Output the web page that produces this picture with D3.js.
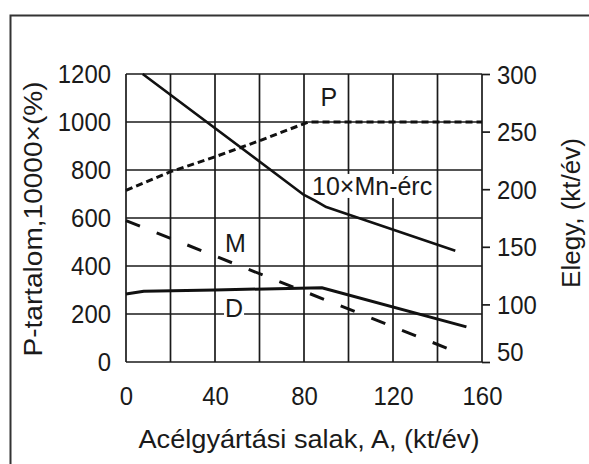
<!DOCTYPE html>
<html>
<head>
<meta charset="utf-8">
<script src="https://cdn.jsdelivr.net/npm/d3@7"></script>
<style>
  body { margin: 0; background: #fff; }
  svg { display: block; }
  text { font-family: "Liberation Sans", Arial, sans-serif; fill: #1a1a1a; }
</style>
</head>
<body>
<svg id="slagPlot"></svg>
<script>
const aTicks = [0, 40, 80, 120, 160];
const aGrid = [0, 20, 40, 60, 80, 100, 120, 140, 160];
const pTicks = [0, 200, 400, 600, 800, 1000, 1200];
const elegyTicks = [50, 100, 150, 200, 250, 300];

// P-tartalom, left axis
const pA = [0, 20, 40, 60, 82, 160];
const pVal = [715, 793, 855, 922, 1000, 1000];
// 10*Mn-érc, right axis
const mnA = [7.5, 80, 85, 90, 148];
const mnVal = [300, 195, 190, 184.5, 146.6];
// M, right axis
const mA = [0, 150];
const mVal = [172.7, 57.6];
// D, right axis
const dA = [0, 8, 40, 88, 153];
const dVal = [109, 111.5, 112.5, 114.5, 80.5];

const size = { width: 589, height: 464 };
const margin = { top: 74, bottom: 102, left: 126, right: 107 };

const svg = d3.select("#slagPlot")
  .attr("width", size.width)
  .attr("height", size.height);

// outer frame (cut off at right and bottom like the scan)
svg.append("rect")
  .attr("x", 10.5).attr("y", 15.5)
  .attr("width", 700).attr("height", 600)
  .attr("fill", "none")
  .attr("stroke", "#333")
  .attr("stroke-width", 2);

const x = d3.scaleLinear()
  .domain([0, 160])
  .range([margin.left, size.width - margin.right]);

const yL = d3.scaleLinear()
  .domain([0, 1200])
  .range([size.height - margin.bottom, margin.top]);

const yR = d3.scaleLinear()
  .domain([50, 300])
  .range([size.height - margin.bottom, margin.top]);

const grid = svg.append("g")
  .attr("stroke", "#1a1a1a")
  .attr("stroke-width", 1.7);

aGrid.forEach((a) => {
  grid.append("line")
    .attr("x1", x(a)).attr("x2", x(a))
    .attr("y1", yL(0)).attr("y2", yL(1200));
});

pTicks.forEach((p) => {
  grid.append("line")
    .attr("x1", x(0)).attr("x2", x(160))
    .attr("y1", yL(p)).attr("y2", yL(p));
});

const styleAxis = (g) => {
  g.select(".domain").remove();
  g.selectAll("text")
    .attr("font-family", "Liberation Sans, Arial, sans-serif")
    .style("font-size", "25px")
    .attr("fill", "#1a1a1a")
    .attr("textLength", (d) => String(d).length * 13.3)
    .attr("lengthAdjust", "spacingAndGlyphs");
  g.selectAll("line").attr("stroke", "#1a1a1a").attr("stroke-width", 1.7);
};

svg.append("g")
  .attr("transform", `translate(${x(0)},0)`)
  .call(d3.axisLeft(yL).tickValues(pTicks).tickFormat(d3.format("d")).tickSize(0).tickPadding(15))
  .call(styleAxis);

const rightAxis = svg.append("g")
  .attr("transform", `translate(${x(160)},0)`)
  .call(d3.axisRight(yR).tickValues(elegyTicks).tickFormat(d3.format("d")).tickSize(8).tickPadding(7))
  .call(styleAxis);

// lowest label sits a bit above its tick
rightAxis.selectAll(".tick text")
  .attr("dy", (d) => (d === 50 ? "-0.05em" : "0.36em"));

svg.append("g")
  .attr("transform", `translate(0,${yL(0)})`)
  .call(d3.axisBottom(x).tickValues(aTicks).tickFormat(d3.format("d")).tickSize(0).tickPadding(25))
  .call(styleAxis);

// axis titles
svg.append("text")
  .text("Acélgyártási salak, A, (kt/év)")
  .attr("x", 309)
  .attr("y", 448)
  .attr("text-anchor", "middle")
  .attr("textLength", 341)
  .attr("lengthAdjust", "spacingAndGlyphs")
  .style("font-size", "25px");

svg.append("text")
  .text("P-tartalom,10000×(%)")
  .attr("transform", "translate(42,219) rotate(-90)")
  .attr("text-anchor", "middle")
  .attr("textLength", 275)
  .attr("lengthAdjust", "spacingAndGlyphs")
  .style("font-size", "25px");

svg.append("text")
  .text("Elegy, (kt/év)")
  .attr("transform", "translate(580,213) rotate(-90)")
  .attr("text-anchor", "middle")
  .attr("textLength", 150)
  .attr("lengthAdjust", "spacingAndGlyphs")
  .style("font-size", "25px");

// curve labels: white boxes go under the curves, over the grid
const labelBoxes = svg.append("g");
const lines = svg.append("g")
  .attr("fill", "none")
  .attr("stroke", "#111")
  .attr("stroke-linejoin", "round");
const labelTexts = svg.append("g");

const curveLabel = (text, xPos, yPos, anchor) => {
  const t = labelTexts.append("text")
    .text(text)
    .attr("x", xPos)
    .attr("y", yPos)
    .attr("text-anchor", anchor)
    .style("font-size", "25px");
  const b = t.node().getBBox();
  labelBoxes.append("rect")
    .attr("x", b.x - 1)
    .attr("y", b.y + 2)
    .attr("width", b.width + 2)
    .attr("height", b.height - 4)
    .attr("fill", "#fff");
};

curveLabel("P", x(91.2), yL(1067), "middle");
curveLabel("10×Mn-érc", x(83.6), yR(195), "start");
curveLabel("M", x(44.5), yR(145.5), "start");
curveLabel("D", x(44.5), yR(89), "start");

// series
const zipped = (as, vs) => as.map((a, i) => ({ a, v: vs[i] }));

const lineL = d3.line().x((d) => x(d.a)).y((d) => yL(d.v));
const lineR = d3.line().x((d) => x(d.a)).y((d) => yR(d.v));

lines.append("path")
  .datum(zipped(pA, pVal))
  .attr("d", lineL)
  .attr("stroke-width", 3)
  .attr("stroke-dasharray", "7,4");

lines.append("path")
  .datum(zipped(mnA, mnVal))
  .attr("d", lineR)
  .attr("stroke-width", 2.6);

lines.append("path")
  .datum(zipped(mA, mVal))
  .attr("d", lineR)
  .attr("stroke-width", 3)
  .attr("stroke-dasharray", "15,18");

lines.append("path")
  .datum(zipped(dA, dVal))
  .attr("d", lineR)
  .attr("stroke-width", 3);
</script>
</body>
</html>
